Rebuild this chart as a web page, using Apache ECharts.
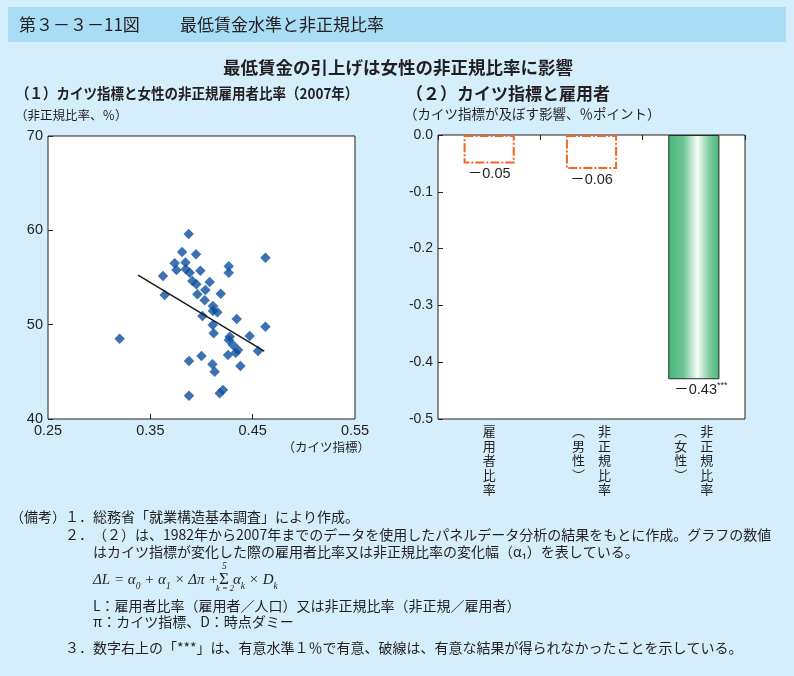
<!DOCTYPE html>
<html><head><meta charset="utf-8">
<script src="https://cdn.jsdelivr.net/npm/echarts@6.0.0/dist/echarts.min.js"></script>
<style>html,body{margin:0;padding:0;background:#d5eefb}#c{width:794px;height:676px}</style>
</head><body><div id="c"></div>
<script>
// ---- data ----
const kaitz = [0.320,0.3875,0.381,0.3946,0.4625,0.3738,0.3843,0.3755,0.3846,0.3885,0.3989,0.4266,0.4266,0.3624,0.3911,0.395,0.408,0.364,0.396,0.4038,0.4188,0.4031,0.4112,0.4112,0.4155,0.4009,0.4344,0.411,0.4625,0.4119,0.4471,0.4276,0.4267,0.4308,0.4357,0.4334,0.4552,0.4259,0.400,0.3878,0.4107,0.438,0.4129,0.3878,0.4178,0.421];
const nonRegularRate = [48.5,59.6,57.7,57.46,57.1,56.5,56.6,55.8,55.87,55.5,55.72,56.2,55.5,55.16,54.63,54.28,54.52,53.14,53.22,53.67,53.28,52.58,51.98,51.45,51.31,50.92,50.6,49.96,49.78,49.08,48.8,48.72,48.37,47.84,47.31,47.03,47.21,46.78,46.68,46.15,45.8,45.62,45.01,42.47,42.72,43.07];
const fitX = [0.338, 0.4613];
const fitY = [55.26, 47.2];
const scatterXLabels = [0.25, 0.35, 0.45, 0.55];
const scatterXTicks = [0.35, 0.45];
const scatterYRange = [40, 70];
const barCats = ['雇用者比率', '非正規比率', '非正規比率'];
const barCatSub = ['', '（男性）', '（女性）'];
const barValues = [-0.05, -0.06, -0.43];
const barSig = ['', '', '***'];
const barSignificant = [false, false, true];
const barYRange = [-0.5, 0];

// ---- styles ----
const INK = '#231f20';
const LATIN = '"Liberation Sans", Arial, "Noto Sans CJK JP", sans-serif';
const JP = '"Noto Sans CJK JP", "Noto Sans", sans-serif';
const SERIF = '"Liberation Serif", "DejaVu Serif", serif';
const NOTE = '14px ' + JP;

const chart = echarts.init(document.getElementById('c'));

function txt(text, x, y, font, opts) {
  opts = opts || {};
  return Object.assign({
    type: 'text', x: x, y: y, silent: true,
    style: Object.assign({
      text: text, font: font, fill: INK,
      textAlign: opts.align || 'left', textVerticalAlign: 'middle',
      align: opts.align || 'left', verticalAlign: 'middle'
    }, opts.style || {})
  }, opts.el || {});
}

const greenGrad = new echarts.graphic.LinearGradient(0, 0, 1, 0, [
  {offset: 0, color: '#44b877'},
  {offset: 0.3, color: '#6ec594'},
  {offset: 0.57, color: '#f6fcf8'},
  {offset: 0.8, color: '#7fcca0'},
  {offset: 1, color: '#44b877'}
]);

const barData = barValues.map((v, i) => ({
  value: v,
  itemStyle: barSignificant[i]
    ? {color: greenGrad, borderColor: '#2a2a2a', borderWidth: 1}
    : {color: 'rgba(0,0,0,0)', borderColor: '#f26522', borderWidth: 2, borderType: [9, 2, 2, 2]},
  label: barSig[i] ? {offset: [7, 0]} : {}
}));

const richFormula = {
  i: {fontFamily: SERIF, fontStyle: 'italic', fontSize: 15, lineHeight: 22, verticalAlign: 'middle', fill: INK, color: INK},
  s: {fontFamily: SERIF, fontStyle: 'italic', fontSize: 9.5, lineHeight: 22, verticalAlign: 'bottom', fill: INK, color: INK}
};

const graphics = [
  {type: 'rect', shape: {x: 8, y: 7, width: 778, height: 35}, style: {fill: '#a9dcf5'}, silent: true, z: -1},
  txt('第３－３－11図', 19, 25, '17px ' + JP),
  txt('最低賃金水準と非正規比率', 180, 25, '17px ' + JP),
  txt('最低賃金の引上げは女性の非正規比率に影響', 398, 67, 'bold 17.5px ' + JP, {align: 'center'}),
  txt('（１）カイツ指標と女性の非正規雇用者比率（2007年）', 16, 93, 'bold 15px ' + JP, {el: {scaleX: 0.9}}),
  txt('（２）カイツ指標と雇用者', 406, 94, 'bold 17px ' + JP),
  txt('（非正規比率、％）', 15, 115, '12.5px ' + JP),
  txt('（カイツ指標が及ぼす影響、％ポイント）', 404, 114, '13.5px ' + JP),
  txt('（カイツ指標）', 370, 447, '12.5px ' + JP, {align: 'right'}),
  // notes
  txt('（備考）', 10, 517, NOTE),
  txt('１．', 65, 517, NOTE),
  txt('総務省「就業構造基本調査」により作成。', 93, 517, NOTE),
  txt('２．', 65, 535, NOTE),
  txt('（２）は、1982年から2007年までのデータを使用したパネルデータ分析の結果をもとに作成。グラフの数値', 93, 535, NOTE),
  txt('はカイツ指標が変化した際の雇用者比率又は非正規比率の変化幅（α₁）を表している。', 93, 552, NOTE),
  {
    type: 'text', x: 93, y: 580, silent: true,
    style: {text: '{i|ΔL = α}{s|0}{i| + α}{s|1}{i| × Δπ + }', textVerticalAlign: 'middle', verticalAlign: 'middle', fill: INK, rich: richFormula}
  },
  txt('Σ', 219, 580, '17px ' + SERIF),
  txt('5', 222, 566, 'italic 9.5px ' + SERIF),
  txt('k = 2', 216, 589, 'italic 8.5px ' + SERIF),
  {
    type: 'text', x: 233, y: 580, silent: true,
    style: {text: '{i|α}{s|k}{i| × D}{s|k}', textVerticalAlign: 'middle', verticalAlign: 'middle', fill: INK, rich: richFormula}
  },
  txt('L：雇用者比率（雇用者／人口）又は非正規比率（非正規／雇用者）', 93, 606, NOTE),
  txt('π：カイツ指標、D：時点ダミー', 93, 622, NOTE),
  txt('３．', 65, 648, NOTE),
  txt('数字右上の「***」は、有意水準１％で有意、破線は、有意な結果が得られなかったことを示している。', 93, 648, NOTE)
];

function verticalLabel(v, i) {
  const main = barCats[i].split('');
  const sub = barCatSub[i] ? barCatSub[i].replace('（', '︵').replace('）', '︶').split('') : null;
  const n = Math.max(main.length, sub ? sub.length : 0);
  const lines = [];
  for (let k = 0; k < n; k++) {
    if (sub) lines.push('{c|' + (sub[k] || '　') + '}{c|　}{c|' + (main[k] || '　') + '}');
    else lines.push('{c|' + main[k] + '}');
  }
  return lines.join('\n');
}

const option = {
  backgroundColor: '#d5eefb',
  animation: false,
  graphic: graphics,
  grid: [
    {left: 48, top: 136, width: 307, height: 283, show: true, backgroundColor: '#ffffff', borderColor: INK, borderWidth: 1, containLabel: false},
    {left: 438, top: 135, width: 307, height: 284, show: true, backgroundColor: '#ffffff', borderColor: INK, borderWidth: 1, containLabel: false}
  ],
  xAxis: [
    {
      gridIndex: 0, type: 'value', min: scatterXLabels[0], max: scatterXLabels[scatterXLabels.length - 1],
      axisLine: {show: false, onZero: false},
      axisTick: {show: true, inside: true, length: 5, lineStyle: {color: INK}, customValues: scatterXTicks},
      axisLabel: {customValues: scatterXLabels, formatter: v => v.toFixed(2), color: INK, fontFamily: LATIN, fontSize: 14.5, margin: 5},
      splitLine: {show: false}
    },
    {
      gridIndex: 1, type: 'category', position: 'bottom', data: barCats,
      axisLine: {show: false, onZero: false}, axisTick: {show: false},
      axisLabel: {
        interval: 0, margin: 5, formatter: verticalLabel,
        rich: {c: {fontFamily: JP, fontSize: 13, lineHeight: 14.5, width: 13, align: 'center', color: INK}}
      }
    },
    {
      gridIndex: 1, type: 'category', position: 'top', data: barCats,
      axisLine: {show: false, onZero: false},
      axisTick: {show: true, inside: true, length: 5, lineStyle: {color: INK}},
      axisLabel: {show: false}
    }
  ],
  yAxis: [
    {
      gridIndex: 0, type: 'value', min: scatterYRange[0], max: scatterYRange[1], interval: 10,
      axisLine: {show: false, onZero: false},
      axisTick: {show: true, inside: true, length: 5, lineStyle: {color: INK}},
      axisLabel: {color: INK, fontFamily: LATIN, fontSize: 14.5, margin: 5},
      splitLine: {show: false}
    },
    {
      gridIndex: 1, type: 'value', min: barYRange[0], max: barYRange[1], interval: 0.1,
      axisLine: {show: false, onZero: false},
      axisTick: {show: true, inside: true, length: 5, lineStyle: {color: INK}},
      axisLabel: {color: INK, fontFamily: LATIN, fontSize: 14, margin: 5, formatter: v => (Math.abs(v) < 1e-9 ? '0.0' : v.toFixed(1))},
      splitLine: {show: false}
    }
  ],
  series: [
    {
      type: 'scatter', xAxisIndex: 0, yAxisIndex: 0, symbol: 'diamond', symbolSize: 10.5,
      itemStyle: {color: '#0b4e9f'},
      data: kaitz.map((x, i) => [x, nonRegularRate[i]]), z: 3
    },
    {
      type: 'line', xAxisIndex: 0, yAxisIndex: 0, showSymbol: false, symbol: 'none',
      lineStyle: {color: '#1a1a1a', width: 1.5},
      data: fitX.map((x, i) => [x, fitY[i]]), z: 4
    },
    {
      type: 'bar', xAxisIndex: 1, yAxisIndex: 1, barWidth: '50%',
      data: barData,
      label: {
        show: true, position: 'bottom', distance: 2,
        formatter: p => '{v|－' + Math.abs(p.value).toFixed(2) + '}' + (barSig[p.dataIndex] ? '{s|' + barSig[p.dataIndex] + '}' : ''),
        rich: {
          v: {fontFamily: LATIN, fontSize: 14.5, color: INK, lineHeight: 18},
          s: {fontFamily: LATIN, fontSize: 9, color: INK, verticalAlign: 'top', lineHeight: 18}
        }
      }
    }
  ]
};
chart.setOption(option);
</script>
</body></html>
